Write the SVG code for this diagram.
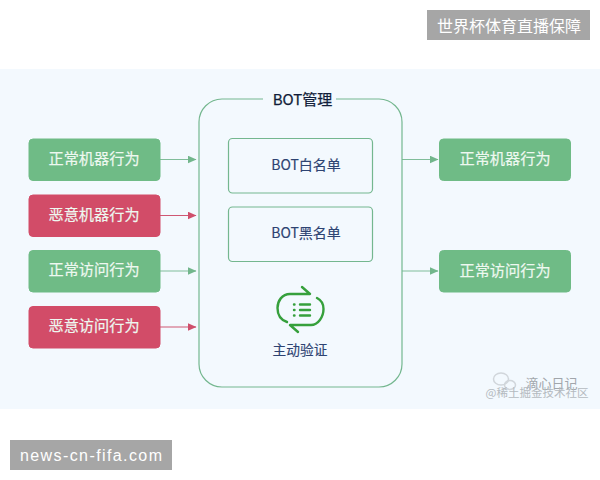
<svg xmlns="http://www.w3.org/2000/svg" width="600" height="480" viewBox="0 0 600 480">
<style>
text{font-family:"Noto Sans CJK SC","Liberation Sans",sans-serif;text-anchor:middle}
.g{fill:#6fbb86;stroke:#6fbb86}
.r{fill:#d24c68;stroke:#d24c68}
.l{font-size:15.200px;fill:#eef8f0;stroke:#eef8f0;stroke-width:.2}
.n{font-size:14px;fill:#2d4372;stroke:#2d4372;stroke-width:.15}
.box{fill:none;stroke:#74b78f;stroke-width:1.2}
.cg{stroke:#80bd9a;stroke-width:1.2;fill:none}
.cr{stroke:#cf5873;stroke-width:1.2;fill:none}
.ic{fill:none;stroke:#36a03c;stroke-width:2.4;stroke-linecap:round;stroke-linejoin:round}
</style>
<defs>
<marker id="ag" markerWidth="9" markerHeight="8" refX="8.500" refY="4" orient="auto" markerUnits="userSpaceOnUse"><path d="M0 0L9 4L0 8z" fill="#72b68c"/></marker>
<marker id="ar" markerWidth="9" markerHeight="8" refX="8.500" refY="4" orient="auto" markerUnits="userSpaceOnUse"><path d="M0 0L9 4L0 8z" fill="#cf4f6b"/></marker>
</defs>
<rect width="600" height="480" fill="#fff"/>
<rect id="panel" x="0" y="69" width="600" height="340" fill="#f3f9fe"/>
<g id="badge-top"><rect x="427" y="10" width="163" height="30" fill="#a6a6a6"/><text x="509" y="31.500" font-size="16" style="fill:#fff">世界杯体育直播保障</text></g>
<g id="badge-bottom"><rect x="10" y="440" width="162" height="30" fill="#a6a6a6"/><text x="91" y="461" font-size="16" style="fill:#fff;font-family:'Liberation Sans',sans-serif" textLength="142">news-cn-fifa.com</text></g>
<g id="connectors">
<path class="cg" d="M160 159.500H196" marker-end="url(#ag)"/>
<path class="cr" d="M160 215.500H196" marker-end="url(#ar)"/>
<path class="cg" d="M160 271H196" marker-end="url(#ag)"/>
<path class="cr" d="M160 327H196" marker-end="url(#ar)"/>
<path class="cg" d="M402 159.500H438" marker-end="url(#ag)"/>
<path class="cg" d="M402 271H438" marker-end="url(#ag)"/>
</g>
<g id="bot-manage"><path class="box" d="M263 99H222A23 23 0 0 0 199 122V364A23 23 0 0 0 222 387H379A23 23 0 0 0 402 364V122A23 23 0 0 0 379 99H336"/><text x="302.500" y="105" font-size="15" style="fill:#111d3a;stroke:#111d3a;stroke-width:.25">BOT管理</text></g>
<g id="n1"><rect class="g" x="29" y="139" width="131" height="41.500" rx="4"/><text class="l" x="94" y="164">正常机器行为</text></g>
<g id="n2"><rect class="r" x="29" y="195" width="131" height="41.500" rx="4"/><text class="l" x="94" y="220">恶意机器行为</text></g>
<g id="n3"><rect class="g" x="29" y="250.500" width="131" height="41.500" rx="4"/><text class="l" x="94" y="275">正常访问行为</text></g>
<g id="n4"><rect class="r" x="29" y="306.500" width="131" height="41.500" rx="4"/><text class="l" x="94" y="331">恶意访问行为</text></g>
<g id="white"><rect class="box" x="228.500" y="138.500" width="144" height="54.500" rx="4"/><text class="n" x="306" y="170">BOT白名单</text></g>
<g id="black"><rect class="box" x="228.500" y="207" width="144" height="54.500" rx="4"/><text class="n" x="306" y="238">BOT黑名单</text></g>
<g id="verify">
<path class="ic" d="M302 287L310 294H290C282 294 277.500 301 277.500 308C277.500 315 281 320 287 322"/>
<path class="ic" d="M298 332L290 325H311C318 325 323.500 317 323.500 309C323.500 304 321 300 317 298"/>
<path class="ic" d="M300 304.500H310M300 310H310M300 315.500H310" stroke-linecap="butt"/>
<path class="ic" d="M294 304.500h.5M294 310h.5M294 315.500h.5"/>
<text x="300" y="355" font-size="13.700" style="fill:#2d4372;stroke:#2d4372;stroke-width:.15">主动验证</text>
</g>
<g id="o1"><rect class="g" x="439.500" y="139" width="131" height="41.500" rx="4"/><text class="l" x="505" y="164">正常机器行为</text></g>
<g id="o2"><rect class="g" x="439.500" y="250.500" width="131" height="41.500" rx="4"/><text class="l" x="505" y="275.500">正常访问行为</text></g>
<g id="watermark" opacity="0.8">
<ellipse cx="501" cy="379" rx="7.500" ry="6" fill="none" stroke="#c9ced3" stroke-width="1.500"/>
<ellipse cx="510" cy="385" rx="5.500" ry="4.500" fill="none" stroke="#c9ced3" stroke-width="1.500"/>
<text x="551.500" y="388" font-size="13" style="fill:#8d9297">滴心日记</text>
<text x="537" y="397" font-size="11.500" style="fill:#a5abb0">@稀土掘金技术社区</text>
</g>
</svg>
